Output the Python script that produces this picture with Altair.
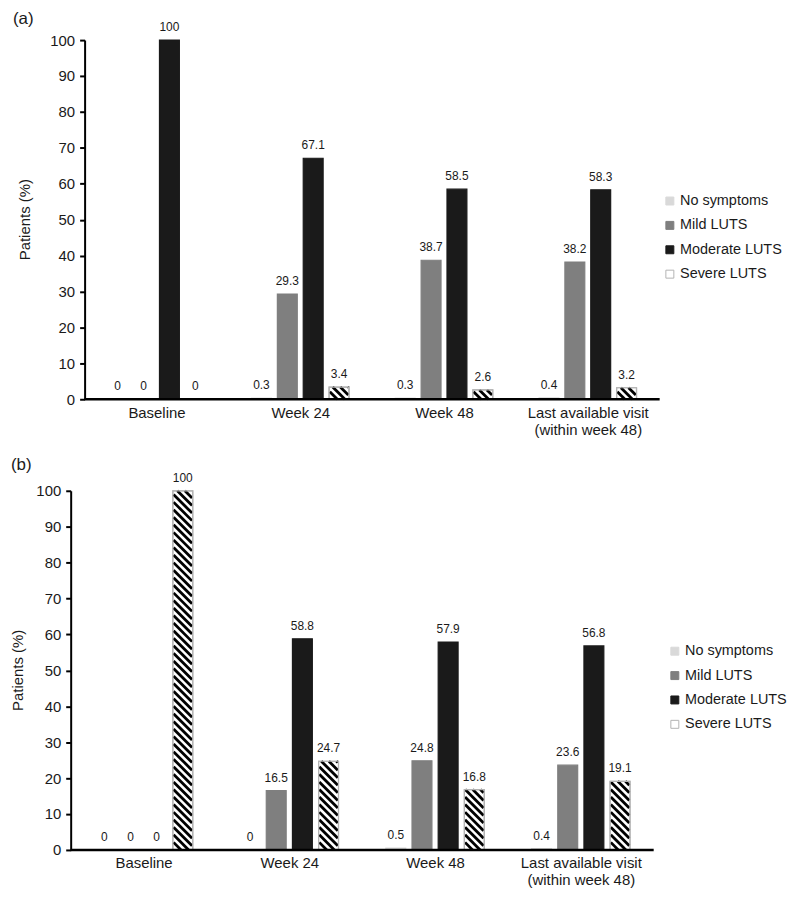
import json
import altair as alt
import pandas as pd

# ---------------- data ----------------
groups = ["Baseline", "Week 24", "Week 48", "Last available visit (within week 48)"]
group_lines = [["Baseline"], ["Week 24"], ["Week 48"], ["Last available visit", "(within week 48)"]]
series = ["No symptoms", "Mild LUTS", "Moderate LUTS", "Severe LUTS"]

a_none = [0, 0.3, 0.3, 0.4]
a_mild = [0, 29.3, 38.7, 38.2]
a_mod = [100, 67.1, 58.5, 58.3]
a_sev = [0, 3.4, 2.6, 3.2]

b_none = [0, 0, 0.5, 0.4]
b_mild = [0, 16.5, 24.8, 23.6]
b_mod = [0, 58.8, 57.9, 56.8]
b_sev = [100, 24.7, 16.8, 19.1]

y_ticks = [0, 10, 20, 30, 40, 50, 60, 70, 80, 90, 100]
y_title = "Patients (%)"

# ---------------- style ----------------
FONT = "Liberation Sans"
TXT = "#1a1a1a"
fills = ["#d9d9d9", "#7f7f7f", "#1a1a1a", "#ffffff"]
strokes = ["#d9d9d9", "#7f7f7f", "#1a1a1a", "#b3b3b3"]
BAR_PX = 20


def label_expr():
    parts = [(i + 1, json.dumps(lines).replace('"', "'")) for i, lines in enumerate(group_lines)]
    expr = parts[-1][1]
    for bound, arr in reversed(parts[:-1]):
        expr = f"datum.value < {bound} ? {arr} : ({expr})"
    return expr


def build_table(value_lists, W, step_px):
    u = 4.0 / W
    rows = []
    for si, (name, vals) in enumerate(zip(series, value_lists)):
        for gi, v in enumerate(vals):
            xc = gi + 0.5 + (si - 1.5) * step_px * u
            rows.append({
                "group": groups[gi], "series": name, "value": v,
                "label": f"{v:g}", "xc": xc,
                "x0": xc - BAR_PX / 2 * u, "x1": xc + BAR_PX / 2 * u,
            })
    return pd.DataFrame(rows)


def build_hatch(df, W, H, period=7.6, inset=0.7):
    u = 4.0 / W
    sev = df[df["series"] == series[3]]
    rows = []
    w = BAR_PX - 2 * inset
    for _, r in sev.iterrows():
        vpx = r["value"] / 100.0 * H
        xl = r["x0"] + inset * u
        k = 0
        while True:
            h = k * period
            if h - w >= vpx:
                break
            t0 = max(0.0, (h - vpx) / w)
            t1 = min(1.0, h / w)
            if t1 > t0:
                rows.append({
                    "hx": xl + t0 * w * u, "hx2": xl + t1 * w * u,
                    "hy": (h - w * t0) * 100.0 / H, "hy2": (h - w * t1) * 100.0 / H,
                })
            k += 1
    return pd.DataFrame(rows)


def panel(value_lists, W, H, step_px, shift, title_x, legend_x, legend_y, tags, spacer=None):
    # W: axis-to-axis width; shift: blank pixels left of the y axis inside the view
    df = build_table(value_lists, W, step_px)
    hatch = build_hatch(df, W, H)

    xscale = alt.Scale(domain=[-shift * 4.0 / W, 4], nice=False, zero=False)
    yscale = alt.Scale(domain=[0, 100], nice=False)
    xaxis = alt.Axis(
        values=[0.5, 1.5, 2.5, 3.5], labelExpr=label_expr(), title=None,
        ticks=False, grid=False, domain=False,
        labelFont=FONT, labelFontSize=15, labelColor=TXT,
        labelPadding=6, labelLineHeight=17, labelBaseline="top", zindex=1)
    yaxis = alt.Axis(
        values=y_ticks, labelOverlap=False, title=None, offset=-shift,
        grid=False, domainColor="black", domainWidth=2, tickColor="black",
        tickWidth=2, tickSize=5, labelFont=FONT, labelFontSize=15,
        labelColor=TXT, labelPadding=5, zindex=1)

    leg = alt.Legend(
        title=None, orient="none", legendX=legend_x, legendY=legend_y,
        symbolType="square", symbolSize=64, symbolStrokeWidth=1,
        labelFont=FONT, labelFontSize=14.5, labelColor=TXT,
        labelOffset=3, rowPadding=9.5, padding=0,
    )

    base = alt.Chart(df).transform_filter(alt.datum.value > 0)
    bars = base.mark_bar(strokeWidth=1.2).encode(
        x=alt.X("x0:Q", scale=xscale, axis=xaxis),
        x2="x1:Q",
        y=alt.Y("value:Q", scale=yscale, axis=yaxis),
        y2=alt.datum(0),
        color=alt.Color("series:N", scale=alt.Scale(domain=series, range=fills), legend=leg),
        stroke=alt.Stroke("series:N", scale=alt.Scale(domain=series, range=strokes), legend=leg),
    )

    hatch_layer = alt.Chart(hatch).mark_rule(color="black", strokeWidth=2.8, strokeCap="butt").encode(
        x=alt.X("hx:Q", scale=xscale, axis=xaxis), x2="hx2:Q",
        y=alt.Y("hy:Q", scale=yscale, axis=yaxis), y2="hy2:Q")

    border = base.transform_filter(alt.datum.series == series[3]).mark_bar(
        fillOpacity=0, stroke="#b3b3b3", strokeWidth=1.2).encode(
        x=alt.X("x0:Q", scale=xscale, axis=xaxis), x2="x1:Q",
        y=alt.Y("value:Q", scale=yscale, axis=yaxis), y2=alt.datum(0))

    texts = alt.Chart(df).mark_text(baseline="bottom", dy=-6, font=FONT, fontSize=12, color=TXT).encode(
        x=alt.X("xc:Q", scale=xscale, axis=xaxis),
        y=alt.Y("value:Q", scale=yscale, axis=yaxis), text="label:N")

    # x baseline from category range start to end (domain line of the category axis)
    baseline = alt.Chart(pd.DataFrame({"a": [0], "b": [len(groups)], "z": [0]})).mark_rule(
        color="black", strokeWidth=2.5).encode(
        x=alt.X("a:Q", scale=xscale, axis=xaxis), x2="b:Q",
        y=alt.Y("z:Q", scale=yscale, axis=yaxis))

    ytitle = alt.Chart(pd.DataFrame({"t": [y_title]})).mark_text(
        angle=270, align="center", baseline="middle", font=FONT, fontSize=15, color=TXT).encode(
        x=alt.value(title_x), y=alt.value(H / 2), text="t:N")

    layers = [bars, hatch_layer, border, texts, baseline, ytitle]
    for t, tx, ty in tags:
        layers.append(
            alt.Chart(pd.DataFrame({"t": [t]})).mark_text(
                align="left", baseline="top", font=FONT, fontSize=17, color=TXT).encode(
                x=alt.value(tx), y=alt.value(ty), text="t:N"))
    if spacer is not None:
        # invisible layout anchor at the left margin
        layers.append(
            alt.Chart(pd.DataFrame({"s": [0]})).mark_rule(strokeOpacity=0, strokeWidth=1).encode(
                x=alt.value(spacer), x2=alt.value(spacer), y=alt.value(0), y2=alt.value(1)))

    return alt.layer(*layers).properties(width=W + shift, height=H)


WA, HA = 578, 361
WB, HB = 586, 361
SHIFT_A = 14

pa = panel([a_none, a_mild, a_mod, a_sev], WA, HA, 26.0, SHIFT_A, -46, 595, 154.5,
           [("(a)", -58, -29), ("(b)", -60, 419)])
pb = panel([b_none, b_mild, b_mod, b_sev], WB, HB, 26.3, 0, -52.5, 600, 154, [], spacer=-62.5)

chart = alt.concat(pa, pb, columns=1, spacing=-1).resolve_scale(
    color="independent", stroke="independent", x="independent", y="independent"
).properties(padding=0).configure_view(stroke=None)

chart.save("out.html", embed_options={"renderer": "svg", "actions": False})
